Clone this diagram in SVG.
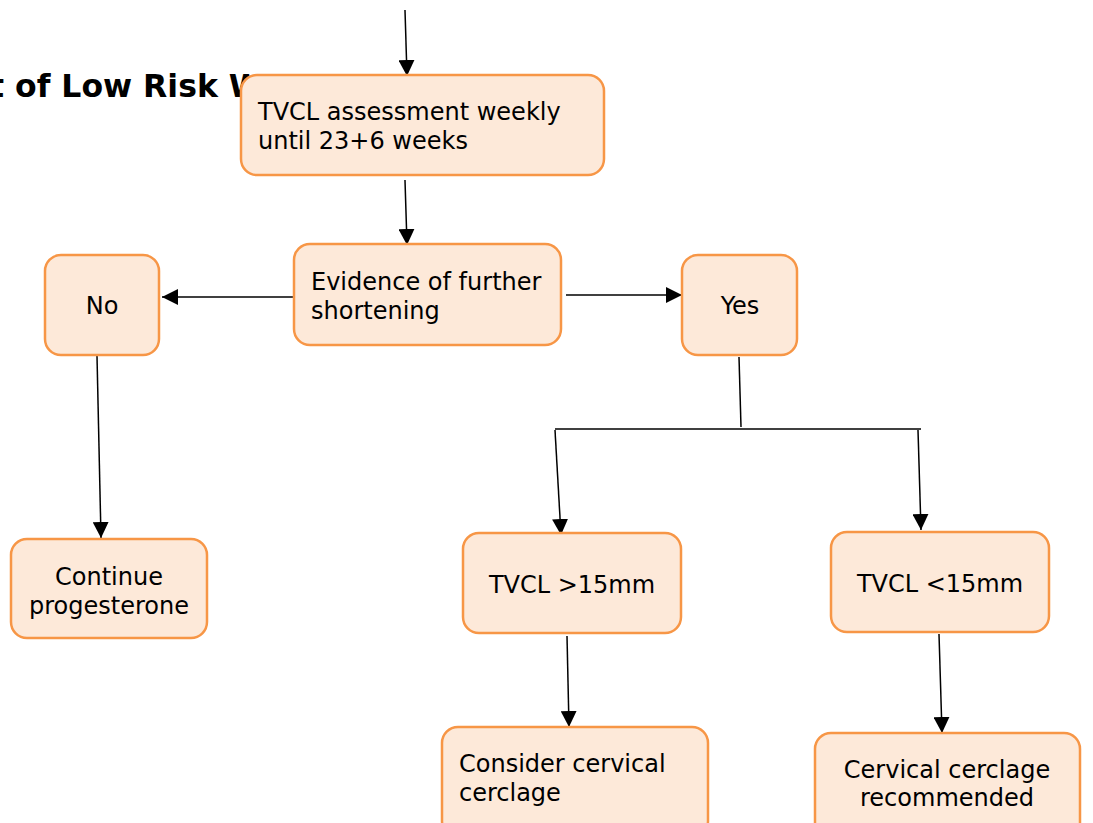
<svg xmlns="http://www.w3.org/2000/svg" width="1093" height="823" viewBox="0 0 1093 823">
  <style>
    .box { fill: #FDE9D9; stroke: #F79646; stroke-width: 2.5; }
    .lbl { font-family: "DejaVu Sans", Verdana, sans-serif; font-size: 24px; fill: #000; }
    .mid { text-anchor: middle; }
    .title { font-family: "DejaVu Sans", Verdana, sans-serif; font-size: 31.5px; font-weight: bold; fill: #000; }
    .ln { fill: none; stroke: #000; stroke-width: 1.5; }
    .ln2 { fill: none; stroke: #404040; stroke-width: 2; }
  </style>
  <defs>
    <marker id="arr" viewBox="0 0 16 16" refX="16" refY="8" markerWidth="16" markerHeight="16" markerUnits="userSpaceOnUse" orient="auto">
      <path d="M0,0 L16,8 L0,16 Z" fill="#000"/>
    </marker>
  </defs>
  <rect width="1093" height="823" fill="#fff"/>

  <!-- heading, partly hidden behind the first step -->
  <text class="title" x="-11" y="97">t of Low Risk W</text>

  <g id="connectors">
    <line class="ln" x1="405" y1="10" x2="407" y2="76" marker-end="url(#arr)"/>
    <line class="ln" x1="405" y1="180" x2="407" y2="245" marker-end="url(#arr)"/>
    <line class="ln2" x1="294" y1="297" x2="162" y2="297" marker-end="url(#arr)"/>
    <line class="ln2" x1="566" y1="295" x2="682" y2="295" marker-end="url(#arr)"/>
    <line class="ln" x1="97" y1="356" x2="101" y2="538" marker-end="url(#arr)"/>
    <line class="ln" x1="739" y1="357" x2="741" y2="427"/>
    <line class="ln2" x1="555" y1="429" x2="921" y2="429"/>
    <line class="ln" x1="555" y1="430" x2="561" y2="535" marker-end="url(#arr)"/>
    <line class="ln" x1="918" y1="430" x2="921" y2="530" marker-end="url(#arr)"/>
    <line class="ln" x1="567" y1="636" x2="569" y2="727" marker-end="url(#arr)"/>
    <line class="ln" x1="939" y1="634" x2="942" y2="733" marker-end="url(#arr)"/>
  </g>

  <g id="assess">
    <rect class="box" x="241" y="75" width="363" height="100" rx="16"/>
    <text class="lbl" x="258" y="120">TVCL assessment weekly</text>
    <text class="lbl" x="258" y="149">until 23+6 weeks</text>
  </g>

  <g id="shortening">
    <rect class="box" x="294" y="244" width="267" height="101" rx="16"/>
    <text class="lbl" x="311" y="290">Evidence of further</text>
    <text class="lbl" x="311" y="319">shortening</text>
  </g>

  <g id="no">
    <rect class="box" x="45" y="255" width="114" height="100" rx="16"/>
    <text class="lbl mid" x="102" y="314">No</text>
  </g>

  <g id="yes">
    <rect class="box" x="682" y="255" width="115" height="100" rx="16"/>
    <text class="lbl mid" x="740" y="314">Yes</text>
  </g>

  <g id="continue">
    <rect class="box" x="11" y="539" width="196" height="99" rx="16"/>
    <text class="lbl mid" x="109" y="585">Continue</text>
    <text class="lbl mid" x="109" y="614">progesterone</text>
  </g>

  <g id="over15">
    <rect class="box" x="463" y="533" width="218" height="100" rx="16"/>
    <text class="lbl mid" x="572" y="593">TVCL &gt;15mm</text>
  </g>

  <g id="under15">
    <rect class="box" x="831" y="532" width="218" height="100" rx="16"/>
    <text class="lbl mid" x="940" y="592">TVCL &lt;15mm</text>
  </g>

  <g id="consider">
    <rect class="box" x="442" y="727" width="266" height="110" rx="16"/>
    <text class="lbl" x="459" y="772">Consider cervical</text>
    <text class="lbl" x="459" y="801">cerclage</text>
  </g>

  <g id="recommended">
    <rect class="box" x="815" y="733" width="265" height="110" rx="16"/>
    <text class="lbl mid" x="947" y="778">Cervical cerclage</text>
    <text class="lbl mid" x="947" y="806">recommended</text>
  </g>
</svg>
